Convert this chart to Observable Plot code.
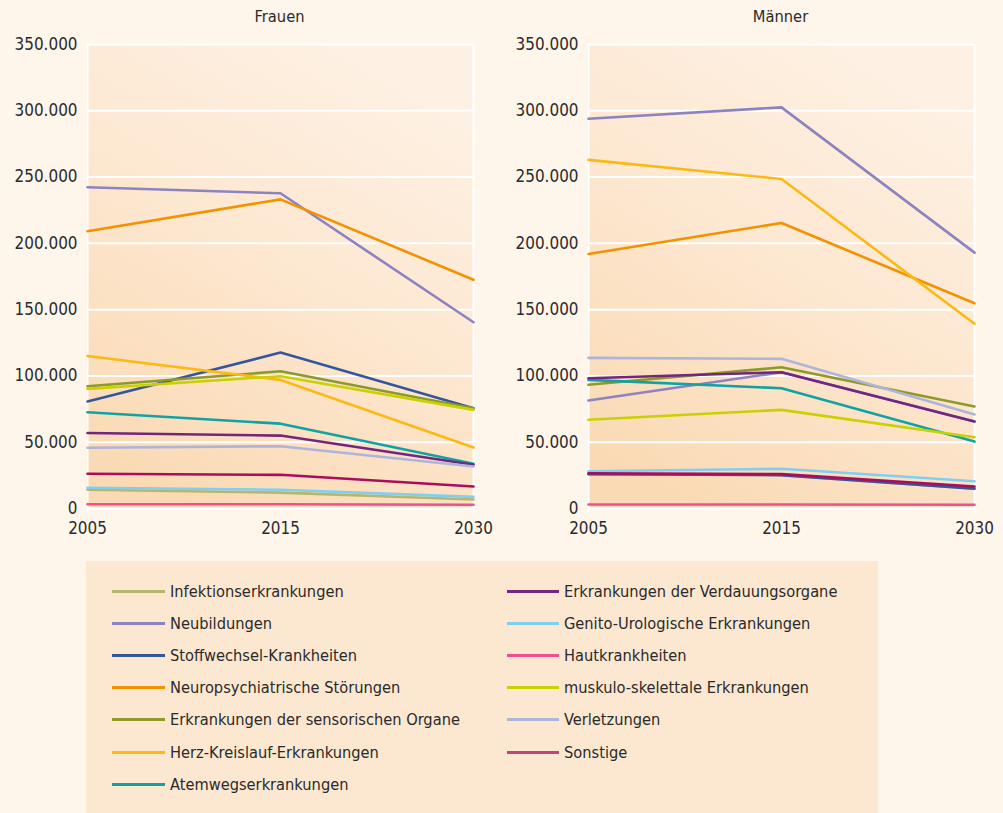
<!DOCTYPE html>
<html>
<head>
<meta charset="utf-8">
<script src="https://cdn.jsdelivr.net/npm/d3@7"></script>
<script src="https://cdn.jsdelivr.net/npm/@observablehq/plot@0.6"></script>
<style>
html,body{margin:0;padding:0;background:#FEF5EB;}
#root{position:relative;width:1003px;height:813px;overflow:hidden;background:#FEF5EB;}
.panel{position:absolute;top:0;width:500px;height:545px;}
.panel svg{position:absolute;left:0;top:30px;}
.title{position:absolute;top:6px;color:#2a2a2a;text-align:center;line-height:22px;}
#legend{position:absolute;left:86px;top:561px;width:792px;height:252px;background:#FCE7D0;}
.item{position:absolute;height:24px;display:flex;align-items:center;color:#2a2a2a;white-space:nowrap;}
.swatch{width:53px;height:3px;margin-right:5px;flex:none;}
</style>
</head>
<body>
<div id="root">
  <div id="left" class="panel" style="left:0"></div>
  <div id="right" class="panel" style="left:501px"></div>
  <div id="legend"></div>
</div>
<script>
// ---------- data ----------
const years = ["2005", "2015", "2030"];
const panelTitles = ["Frauen", "Männer"];
const categories = [
  "Infektionserkrankungen",
  "Neubildungen",
  "Stoffwechsel-Krankheiten",
  "Neuropsychiatrische Störungen",
  "Erkrankungen der sensorischen Organe",
  "Herz-Kreislauf-Erkrankungen",
  "Atemwegserkrankungen",
  "Erkrankungen der Verdauungsorgane",
  "Genito-Urologische Erkrankungen",
  "Hautkrankheiten",
  "muskulo-skelettale Erkrankungen",
  "Verletzungen",
  "Sonstige"
];
const colors = [
  "#B6B66C", "#8C83C1", "#34579C", "#F39200", "#8D9A2A", "#FDB913", "#0FA3A6",
  "#71267F", "#80CEF2", "#EE5092", "#C9D200", "#AEB4DA", "#A80D5E"
];
const legendColors = [
  "#B6B66C", "#8C83C1", "#34579C", "#F39200", "#8D9A2A", "#FDB913", "#0FA3A6",
  "#71267F", "#80CEF2", "#EE5092", "#C9D200", "#AEB4DA", "#C2457A"
];
// values per year, in category order
const frauen2005 = [14100, 242300, 80700, 209100, 92200, 115000, 72600, 57000, 15600, 3200, 90200, 45800, 26200];
const frauen2015 = [12000, 237800, 117600, 233200, 103500, 97000, 64000, 55000, 14100, 3200, 99800, 47000, 25400];
const frauen2030 = [6800, 140500, 75600, 172500, 75600, 46000, 33700, 33000, 8800, 2800, 74400, 31700, 16600];
const maenner2005 = [25800, 294000, 25800, 192000, 93300, 263000, 97000, 98300, 28100, 3000, 66900, 113600, 26600];
const maenner2015 = [25200, 302600, 25200, 215400, 106500, 248600, 90700, 102800, 30000, 3000, 74400, 112900, 25900];
const maenner2030 = [15000, 193000, 15000, 154800, 76900, 139300, 50500, 65600, 20500, 2800, 53800, 70900, 16600];
// additional lavender line drawn in the Männer panel
const maennerLavenderLine = [81400, 102800, 65600];
const yTicks = [0, 50000, 100000, 150000, 200000, 250000, 300000, 350000];

// ---------- fonts ----------
const ctx = document.createElement("canvas").getContext("2d");
function hasFont(f) {
  const s = "Erkrankungen der sensorischen Organe 350.000 Männer";
  ctx.font = "20px monospace"; const a = ctx.measureText(s).width;
  ctx.font = `20px "${f}", monospace`; const b = ctx.measureText(s).width;
  return a !== b;
}
const FONT = hasFont("Liberation Sans Narrow") ? '"Liberation Sans Narrow"'
  : hasFont("DejaVu Sans Condensed") ? '"DejaVu Sans Condensed"' : "Lato";
function fit(str, target) {
  ctx.font = `20px ${FONT}`;
  return Math.min(20, 20 * target / ctx.measureText(str).width);
}
const tickFs = fit("350.000", 63);
const titleFs = fit("Frauen", 50);
const legendFs = fit("Erkrankungen der sensorischen Organe", 290);

const fmt = d => d3.format(",")(d).replace(/,/g, ".");

function makePanel(el, title, v05, v15, v30, extra, gid) {
  const data = [];
  const cols = [v05, v15, v30];
  if (extra) years.forEach((y, j) => data.push({cat: "extra", color: colors[1], year: y, v: extra[j]}));
  categories.forEach((c, i) => years.forEach((y, j) => data.push({cat: c, color: colors[i], year: y, v: cols[j][i]})));
  const chart = Plot.plot({
    width: 500, height: 515,
    marginLeft: 86, marginRight: 27, marginTop: 14, marginBottom: 37,
    x: {type: "point", domain: years, padding: 0},
    y: {domain: [0, 350000]},
    color: {type: "identity"},
    style: {fontFamily: FONT, fontSize: tickFs + "px", color: "#2a2a2a", background: "transparent", overflow: "visible"},
    marks: [
      Plot.frame({fill: `url(#${gid})`, stroke: null}),
      Plot.ruleY(yTicks, {stroke: "white", strokeWidth: 2}),
      Plot.ruleX([years[0], years[years.length - 1]], {stroke: "white", strokeWidth: 2}),
      Plot.axisY({ticks: yTicks, tickSize: 0, tickPadding: 9, tickFormat: fmt, label: null}),
      Plot.axisX({tickSize: 5, stroke: "white", strokeWidth: 2, tickFormat: () => "", label: null}),
      Plot.axisX({tickSize: 0, tickPadding: 13, label: null}),
      Plot.line(data, {x: "year", y: "v", z: "cat", stroke: "color", strokeWidth: 2.6})
    ]
  });
  const defs = d3.select(chart).insert("defs", ":first-child");
  const g = defs.append("linearGradient").attr("id", gid)
    .attr("x1", 0.25).attr("y1", 1).attr("x2", 0.75).attr("y2", 0);
  g.append("stop").attr("offset", 0).attr("stop-color", "#FADAB4");
  g.append("stop").attr("offset", 0.55).attr("stop-color", "#FDE8D2");
  g.append("stop").attr("offset", 1).attr("stop-color", "#FEF1E4");
  const t = document.createElement("div");
  t.className = "title";
  t.textContent = title;
  t.style.fontFamily = FONT;
  t.style.fontSize = titleFs + "px";
  t.style.left = "86px"; t.style.width = (500 - 86 - 27) + "px";
  el.appendChild(t);
  el.appendChild(chart);
}
makePanel(document.getElementById("left"), panelTitles[0], frauen2005, frauen2015, frauen2030, null, "gF");
makePanel(document.getElementById("right"), panelTitles[1], maenner2005, maenner2015, maenner2030, maennerLavenderLine, "gM");

// ---------- legend ----------
const legend = document.getElementById("legend");
categories.forEach((c, i) => {
  const col = i < 7 ? 0 : 1, row = i < 7 ? i : i - 7;
  const it = document.createElement("div");
  it.className = "item";
  it.style.left = (col ? 421 : 26) + "px";
  it.style.top = (30 + row * 32.2 - 12) + "px";
  it.style.fontFamily = FONT;
  it.style.fontSize = legendFs + "px";
  const sw = document.createElement("div");
  sw.className = "swatch";
  sw.style.background = legendColors[i];
  sw.style.width = (col ? 52 : 53) + "px";
  const tx = document.createElement("span");
  tx.textContent = c;
  it.appendChild(sw); it.appendChild(tx);
  legend.appendChild(it);
});
</script>
</body>
</html>
